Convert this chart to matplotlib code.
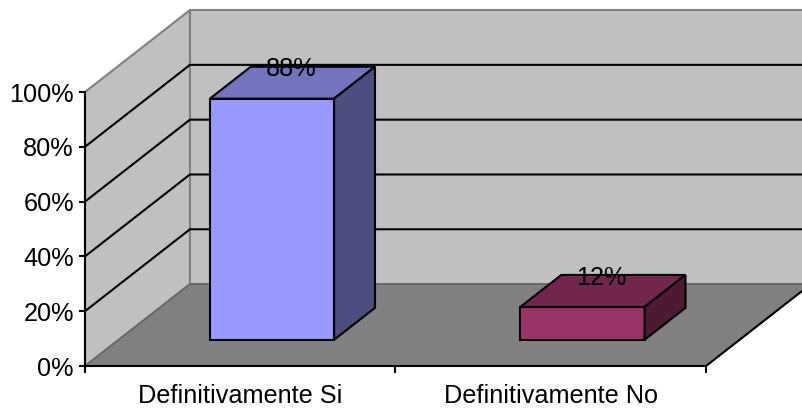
#!/usr/bin/env python3

import matplotlib
matplotlib.use("Agg")
import matplotlib.pyplot as plt
from matplotlib.patches import Polygon
from matplotlib.ticker import PercentFormatter

categories = ["Definitivamente Si", "Definitivamente No"]
values = [88, 12]
y_ticks = [0, 20, 40, 60, 80, 100]

front_colors = ["#9999FF", "#993366"]
top_colors = ["#7373BF", "#73264D"]
side_colors = ["#4D4D80", "#4D1A33"]

# oblique projection: how far one full unit of depth moves a point
DEPTH_X = 0.338
DEPTH_Y = 29.9
BAR_WIDTH = 0.4
BAR_SHIFT = -0.006
BAR_DEPTH = (0.32, 0.71)
FONT_SIZE = 18.2
LINE = 1.5

W, H = 803, 408


def proj(x, d, y):
    return x + d * DEPTH_X, y + d * DEPTH_Y


def face(ax, corners, color, edge="black", lw=LINE, z=2):
    ax.add_patch(Polygon([proj(*c) for c in corners], closed=True, facecolor=color,
                         edgecolor=edge, linewidth=lw, joinstyle="miter", zorder=z, clip_on=False))


def main() -> None:
    plt.rcParams["font.family"] = ["Liberation Sans", "DejaVu Sans"]
    fig = plt.figure(figsize=(W / 100, H / 100), dpi=100)
    ax = fig.add_axes([85 / W, (H - 366) / H, (706 - 85) / W, (366 - 92) / H])
    ax.set_xlim(0, len(categories))
    ax.set_ylim(0, 100)
    ax.patch.set_visible(False)

    n = len(categories)
    # walls and floor
    face(ax, [(0, 0, 0), (0, 1, 0), (0, 1, 100), (0, 0, 100)], "#C0C0C0", "#808080", LINE, 0.5)
    face(ax, [(0, 1, 0), (n, 1, 0), (n, 1, 100), (0, 1, 100)], "#C0C0C0", "#808080", LINE, 0.5)
    face(ax, [(0, 0, 0), (n, 0, 0), (n, 1, 0), (0, 1, 0)], "#808080", "#606060", 1.0, 0.6)

    # right edge of the floor
    xs, ys = zip(proj(n, 0, 0), proj(n, 1, 0))
    ax.plot(xs, ys, color="black", lw=LINE, zorder=0.7, clip_on=False)

    # gridlines over both walls, the top one stays grey
    for t in y_ticks[1:-1]:
        xs, ys = zip(proj(0, 0, t), proj(0, 1, t), proj(n, 1, t))
        ax.plot(xs, ys, color="black", lw=LINE, zorder=1, clip_on=False)

    # bars
    d0, d1 = BAR_DEPTH
    for i, v in enumerate(values):
        x0 = i + 0.5 - BAR_WIDTH / 2 + BAR_SHIFT
        x1 = i + 0.5 + BAR_WIDTH / 2 + BAR_SHIFT
        face(ax, [(x0, d0, 0), (x1, d0, 0), (x1, d0, v), (x0, d0, v)], front_colors[i])
        face(ax, [(x0, d0, v), (x1, d0, v), (x1, d1, v), (x0, d1, v)], top_colors[i])
        face(ax, [(x1, d0, 0), (x1, d1, 0), (x1, d1, v), (x1, d0, v)], side_colors[i])
        ax.annotate("%d%%" % v, xy=proj(i + 0.5 + BAR_SHIFT, (d0 + d1) / 2, v), xytext=(-1, 1),
                    textcoords="offset points", ha="center", va="bottom",
                    fontsize=FONT_SIZE, color="black", zorder=5, annotation_clip=False)

    for s in ("top", "right"):
        ax.spines[s].set_visible(False)
    for s in ("left", "bottom"):
        ax.spines[s].set_linewidth(LINE)
        ax.spines[s].set_zorder(3)

    ax.set_yticks(y_ticks)
    ax.yaxis.set_major_formatter(PercentFormatter(100, decimals=0))
    ax.tick_params(axis="y", labelsize=FONT_SIZE, length=4, width=LINE, pad=4)
    ax.set_xticks(range(n + 1))
    ax.set_xticklabels([])
    ax.tick_params(axis="x", which="major", length=5, width=LINE)
    ax.set_xticks([i + 0.5 for i in range(n)], categories, minor=True)
    ax.tick_params(axis="x", which="minor", length=0, labelsize=FONT_SIZE, pad=13)

    fig.savefig("out.png", dpi=100)


if __name__ == "__main__":
    main()
